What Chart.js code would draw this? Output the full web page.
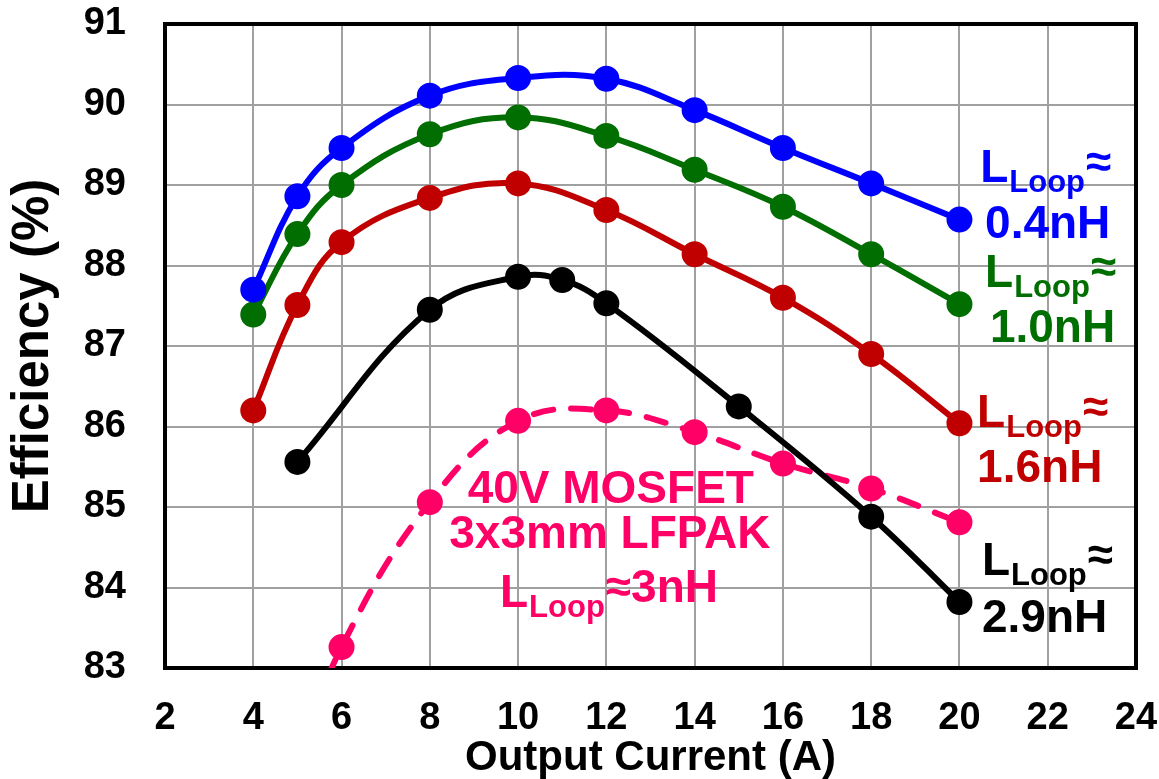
<!DOCTYPE html>
<html>
<head>
<meta charset="utf-8">
<script src="https://cdn.jsdelivr.net/npm/chart.js@4/dist/chart.umd.min.js"></script>
<style>
  html, body { margin: 0; padding: 0; background: #fff; }
  #wrap { width: 1159px; height: 779px; }
</style>
</head>
<body>
<div id="wrap"><canvas id="effChart" width="1159" height="779"></canvas></div>
<script>
// x values (A) and efficiency (%) per loop inductance
const x04 = [4, 5, 6, 8, 10, 12, 14, 16, 18, 20];
const eff04 = [87.70, 88.86, 89.46, 90.11, 90.33, 90.32, 89.93, 89.46, 89.02, 88.57];
const x10 = [4, 5, 6, 8, 10, 12, 14, 16, 18, 20];
const eff10 = [87.39, 88.39, 89.00, 89.63, 89.84, 89.61, 89.19, 88.73, 88.14, 87.52];
const x16 = [4, 5, 6, 8, 10, 12, 14, 16, 18, 20];
const eff16 = [86.20, 87.51, 88.29, 88.84, 89.02, 88.69, 88.14, 87.60, 86.90, 86.04];
const x29 = [5, 8, 10, 11, 12, 15, 18, 20];
const eff29 = [85.56, 87.45, 87.86, 87.82, 87.53, 86.25, 84.88, 83.82];
const x3 = [5, 6, 8, 10, 12, 14, 16, 18, 20];
const eff3 = [81.8, 83.26, 85.06, 86.07, 86.20, 85.93, 85.54, 85.23, 84.81];

const xTicks = [2, 4, 6, 8, 10, 12, 14, 16, 18, 20, 22, 24];
const yTicks = [83, 84, 85, 86, 87, 88, 89, 90, 91];

const FONT = 'Liberation Sans, Arial, sans-serif';

function pts(xs, ys) {
    return xs.map((x, i) => ({ x: x, y: ys[i] }));
}

function series(label, xs, ys, color, dashed) {
    return {
        label: label,
        data: pts(xs, ys),
        borderColor: color,
        backgroundColor: color,
        pointBackgroundColor: color,
        pointBorderColor: color,
        pointRadius: 10,
        borderWidth: 6,
        tension: 0.4,
        borderDash: dashed ? [20, 18] : [],
        borderDashOffset: dashed ? 22 : 0,
        borderCapStyle: dashed ? 'round' : 'butt',
        fill: false
    };
}

// "L_Loop≈..." label, anchored in data units
function drawLLabel(ctx, sx, sy, px, py, color, tail) {
    const x = sx.getPixelForValue(px);
    const y = sy.getPixelForValue(py);
    ctx.fillStyle = color;
    ctx.textBaseline = 'alphabetic';
    ctx.textAlign = 'left';
    ctx.font = 'bold 46px ' + FONT;
    ctx.fillText('L', x, y);
    let cx = x + ctx.measureText('L').width + 1;
    ctx.font = 'bold 31px ' + FONT;
    ctx.fillText('Loop', cx, y + 10);
    cx += ctx.measureText('Loop').width + 1;
    ctx.font = 'bold 46px ' + FONT;
    ctx.fillText('\u2248' + tail, cx, y - 5);
}

function drawLine(ctx, sx, sy, px, py, color, text, align) {
    ctx.fillStyle = color;
    ctx.textBaseline = 'alphabetic';
    ctx.textAlign = align;
    ctx.font = 'bold 46px ' + FONT;
    ctx.fillText(text, sx.getPixelForValue(px), sy.getPixelForValue(py));
}

const frame = {
    id: 'frame',
    beforeDatasetsDraw(chart) {
        const { ctx, chartArea: a } = chart;
        ctx.save();
        ctx.strokeStyle = '#000';
        ctx.lineWidth = 4;
        ctx.strokeRect(a.left, a.top, a.right - a.left, a.bottom - a.top);
        ctx.restore();
    }
};

const notes = {
    id: 'notes',
    afterDatasetsDraw(chart) {
        const { ctx } = chart;
        const sx = chart.scales.x, sy = chart.scales.y;
        ctx.save();
        drawLLabel(ctx, sx, sy, 20.47, 89.04, '#0000ff', '');
        drawLine(ctx, sx, sy, 20.58, 88.34, '#0000ff', '0.4nH', 'left');
        drawLLabel(ctx, sx, sy, 20.58, 87.73, '#006e00', '');
        drawLine(ctx, sx, sy, 20.69, 87.05, '#006e00', '1.0nH', 'left');
        drawLLabel(ctx, sx, sy, 20.40, 85.99, '#c00000', '');
        drawLine(ctx, sx, sy, 20.40, 85.31, '#c00000', '1.6nH', 'left');
        drawLLabel(ctx, sx, sy, 20.51, 84.16, '#000000', '');
        drawLine(ctx, sx, sy, 20.51, 83.45, '#000000', '2.9nH', 'left');
        drawLine(ctx, sx, sy, 12.10, 85.05, '#ff0066', '40V MOSFET', 'center');
        drawLine(ctx, sx, sy, 12.08, 84.49, '#ff0066', '3x3mm LFPAK', 'center');
        drawLLabel(ctx, sx, sy, 9.59, 83.76, '#ff0066', '3nH');
        ctx.restore();
    }
};

new Chart(document.getElementById('effChart').getContext('2d'), {
    type: 'line',
    data: {
        datasets: [
            series('0.4nH', x04, eff04, '#0000ff', false),
            series('1.0nH', x10, eff10, '#006e00', false),
            series('1.6nH', x16, eff16, '#c00000', false),
            series('2.9nH', x29, eff29, '#000000', false),
            series('3nH', x3, eff3, '#ff0066', true)
        ]
    },
    options: {
        responsive: false,
        animation: false,
        layout: { padding: { top: 24, right: 23, left: 0, bottom: 0 } },
        plugins: { legend: { display: false }, tooltip: { enabled: false } },
        scales: {
            x: {
                type: 'linear',
                min: 2, max: 24,
                afterBuildTicks: s => { s.ticks = xTicks.map(v => ({ value: v })); },
                afterFit: s => { s.height = 111; s.paddingLeft = 0; s.paddingRight = 0; },
                grid: { color: '#a0a0a0', lineWidth: 2, drawTicks: false },
                border: { display: false },
                ticks: { color: '#000', padding: 28, maxRotation: 0, font: { family: FONT, size: 38, weight: 'bold' } },
                title: {
                    display: true, text: 'Output Current (A)', color: '#000',
                    padding: 0, font: { family: FONT, size: 42, weight: 'bold', lineHeight: 1 }
                }
            },
            y: {
                min: 83, max: 91,
                afterBuildTicks: s => { s.ticks = yTicks.map(v => ({ value: v })); },
                afterFit: s => { s.width = 165; s.paddingTop = 0; s.paddingBottom = 0; },
                grid: { color: '#a0a0a0', lineWidth: 2, drawTicks: false },
                border: { display: false },
                ticks: { color: '#000', padding: 39, font: { family: FONT, size: 38, weight: 'bold' } },
                title: {
                    display: true, text: 'Efficiency (%)', color: '#000',
                    padding: { top: 8, bottom: 0 }, font: { family: FONT, size: 51, weight: 'bold', lineHeight: 1 }
                }
            }
        }
    },
    plugins: [frame, notes]
});
</script>
</body>
</html>
